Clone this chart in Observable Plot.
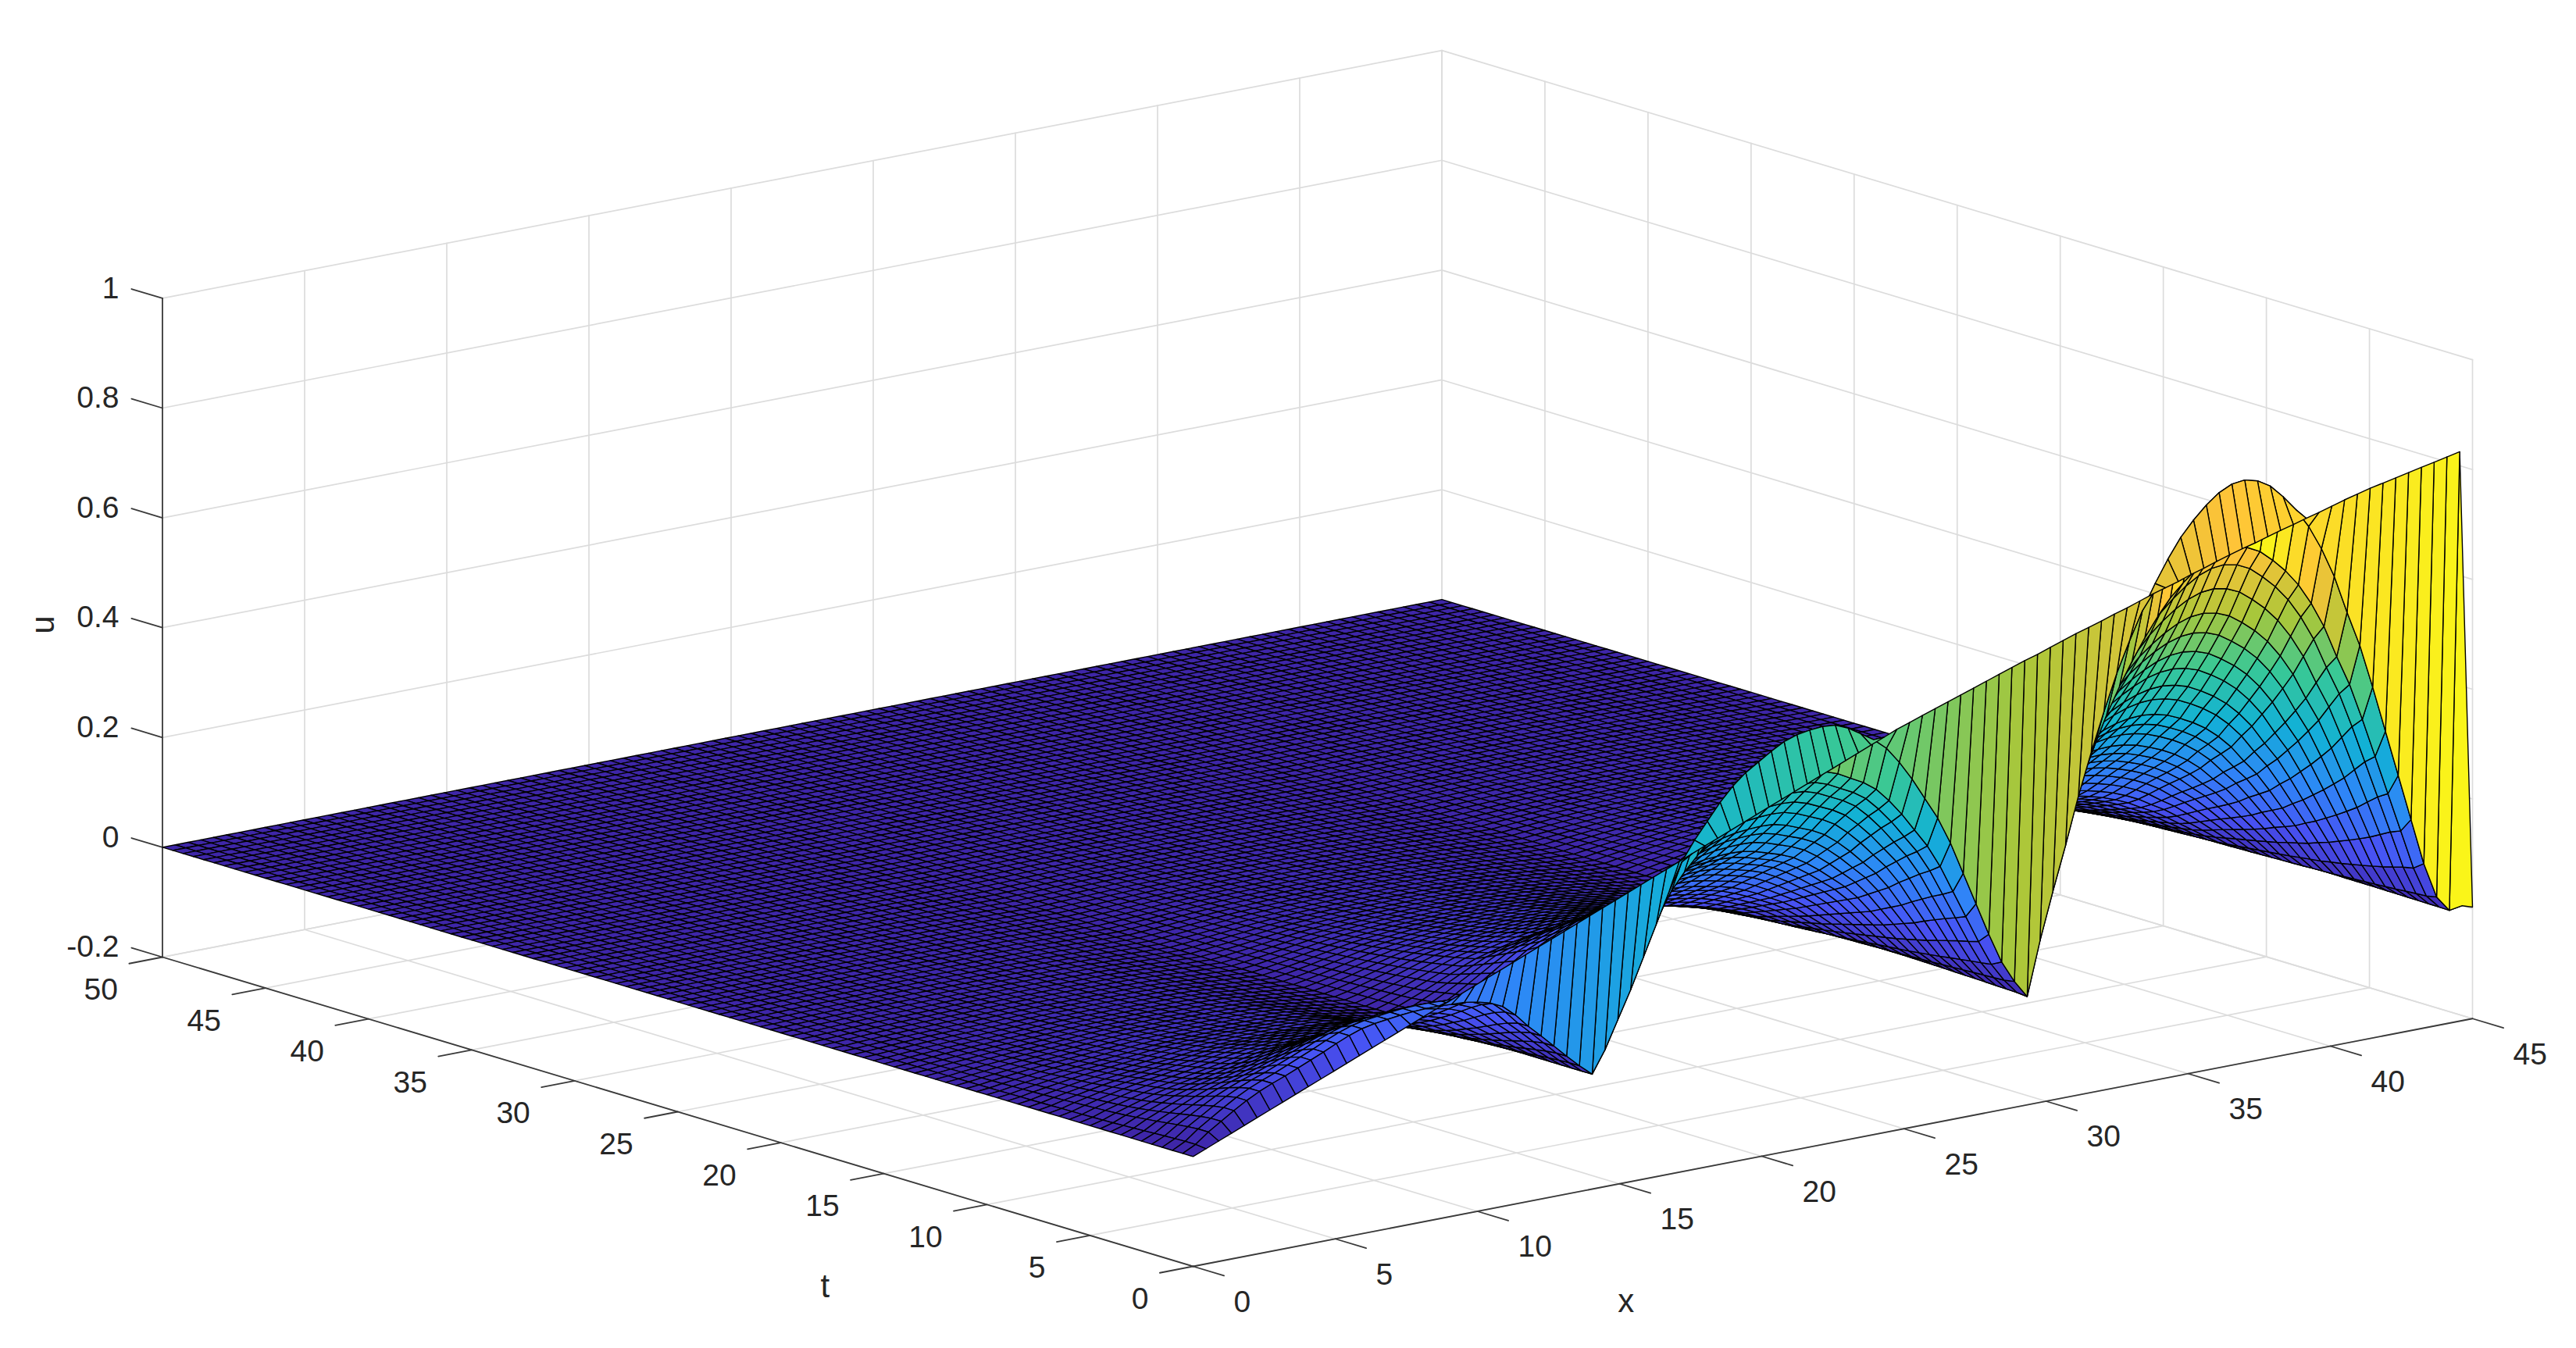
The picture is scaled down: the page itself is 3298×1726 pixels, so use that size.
<!DOCTYPE html>
<html><head><meta charset="utf-8">
<style>html,body{margin:0;padding:0;background:#fff}svg{display:block}</style>
<script src="https://cdn.jsdelivr.net/npm/d3@7"></script>
<script src="https://cdn.jsdelivr.net/npm/@observablehq/plot@0.6"></script>
</head><body><div id="chart"></div>
<script>
// Values. Rows after t=0.5 are approximated as rowProfile x a decay read
// per bump: the 10201 mesh nodes are not read one by one.
const xTicks=[0,5,10,15,20,25,30,35,40,45];
const tTicks=[0,5,10,15,20,25,30,35,40,45,50];
const uTicks=[-0.2,0,0.2,0.4,0.6,0.8,1];
const uLabels=["-0.2","0","0.2","0.4","0.6","0.8","1"];
const xStep=0.45, tStep=0.5;
// u at t=0, one value per x node
const rowStart=[0,.0096,.0193,.0289,.0385,.0482,.0578,.0674,.077,.0867,.0963,.1059,.1156,.1252,.1348,.1445,.1541,.1637,.1733,.183,.1926,.2022,.2119,.2215,.2311,.2408,.2504,.26,.2696,.2793,.2889,.2985,.3082,.3178,.3274,.3371,.3467,.3563,.3659,.3756,.3852,.3948,.4045,.4141,.4237,.4334,.443,.4526,.4622,.4719,.4815,.4911,.5008,.5104,.52,
.53,.538,.546,.554,.562,.57,.578,.586,.594,.602,.61,.617,.625,.633,.641,.648,.655,.663,.67,.678,.686,.693,.7,.708,.715,.723,.73,.737,.743,.75,.757,.763,.77,.776,.783,.79,.796,.802,.807,.812,.817,.822,.827,.832,.837,.003];
// u at t=0.5, one value per x node
const rowProfile=[0,.012,.03,.045,.06,.074,.086,.096,.105,.115,.125,.135,.146,.156,.164,.169,.172,.175,.177,.178,.178,.177,.176,.172,.166,.155,.135,.11,.088,.065,.042,.02,
0,.04,.09,.14,.195,.25,.305,.355,.39,.42,.45,.475,.495,.51,.525,.538,.546,.55,.552,.55,.54,.525,.51,.49,.46,.425,.385,.345,.295,.235,.175,.115,.06,.02,
-.012,.085,.17,.25,.335,.41,.48,.545,.6,.65,.695,.735,.77,.797,.82,.838,.849,.852,.846,.832,.808,.78,.745,.7,.645,.575,.51,.43,.345,.26,.175,.09,.025,-.004,0];
// height of each row from t=0.5 to t=10 relative to t=0.5, one list per bump
const decayBump1=[1,1,.95,.88,.8,.72,.65,.58,.52,.47,.43,.4,.37,.34,.31,.28,.26,.24,.22,.2];
const decayBump2=[1,.836,.79,.75,.705,.66,.61,.57,.53,.49,.46,.43,.4,.37,.34,.31,.285,.26,.235,.21];
const decayBump3=[1,.85,.806,.748,.689,.64,.593,.55,.507,.471,.431,.403,.376,.345,.32,.297,.275,.252,.228,.205];
// shared by all bumps from t=10.5 to t=50
const decayTail=[.186,.173,.161,.15,.139,.129,.12,.112,.104,.097,.09,.084,.078,.072,.067,.063,.058,.054,.05,.047,.043,.04,.037,.035,.032,.03,.028,.026,.024,.022,.021,.019,.018,.017,.015,.014,.013,.012,.011,.011,
.01,.009,.009,.008,.007,.007,.006,.006,.005,.005,.005,.004,.004,.004,.003,.003,.003,.003,.002,.002,.002,.002,.002,.002,.001,.001,.001,.001,.001,.001,.001,.001,.001,.001,0,0,0,0,0,0];
const bump2Start=32, bump3Start=66;
const parula=["rgb(62,38,168)","rgb(72,82,244)","rgb(46,135,247)","rgb(18,177,214)","rgb(55,200,151)","rgb(171,199,57)","rgb(254,195,56)","rgb(249,251,21)"];

// orthographic view of the box
const W=3298,H=1726,uMin=-0.2,uMax=1,xMax=45,tMax=50;
const sx=(x,t)=>1527+36.4*x-26.39*t;
const sy=(x,t,u)=>1621-7.05*x-7.92*t-703*(u-uMin);

const nx=rowStart.length, nt=decayBump1.length+decayTail.length+1;
const headOf=i=>i<bump2Start?decayBump1:i<bump3Start?decayBump2:decayBump3;
const decayAt=(j,i)=>{const h=headOf(i);return j-1<h.length?h[j-1]:decayTail[j-1-h.length];};
const uAt=(j,i)=>j===0?rowStart[i]:rowProfile[i]*decayAt(j,i);
const quads=[];
for(let j=nt-2;j>=0;j--)for(let i=nx-2;i>=0;i--){
  const k=j*nx+i, v=uAt(j,i);
  for(const [a,b] of [[i,j],[i+1,j],[i+1,j+1],[i,j+1]]){
    const x=a*xStep,t=b*tStep,u=uAt(b,a);
    quads.push({k,v,X:sx(x,t),Y:sy(x,t,u)});
  }
}
const P=(x,t,u)=>({X:sx(x,t),Y:sy(x,t,u)});
const gridRows=[];let gid=0;
const addSeg=(a,b)=>{gid++;gridRows.push({...a,g:gid},{...b,g:gid});};
for(const x of xTicks){addSeg(P(x,0,uMin),P(x,tMax,uMin));addSeg(P(x,tMax,uMin),P(x,tMax,uMax));}
for(const t of tTicks){addSeg(P(0,t,uMin),P(xMax,t,uMin));addSeg(P(xMax,t,uMin),P(xMax,t,uMax));}
for(const u of uTicks){addSeg(P(0,tMax,u),P(xMax,tMax,u));addSeg(P(xMax,tMax,u),P(xMax,0,u));}
const axisRows=[];let aid=0;
const addAxis=(a,b)=>{aid++;axisRows.push({...a,g:aid},{...b,g:aid});};
addAxis(P(0,tMax,uMin),P(0,tMax,uMax));
addAxis(P(0,0,uMin),P(0,tMax,uMin));
addAxis(P(0,0,uMin),P(xMax,0,uMin));
for(const u of uTicks)addAxis(P(0,tMax,u),P(0,tMax+1.5,u));
for(const t of tTicks)addAxis(P(0,t,uMin),P(-1.17,t,uMin));
for(const x of xTicks)addAxis(P(x,0,uMin),P(x,-1.5,uMin));

const font={fontFamily:"Liberation Sans, Arial, sans-serif",fill:"#262626",lineAnchor:"middle"};
const chart=Plot.plot({
  width:W,height:H,margin:0,
  style:{background:"#fff"},
  x:{domain:[0,W],range:[0,W],axis:null},
  y:{domain:[0,H],range:[0,H],axis:null},
  color:{type:"linear",domain:[0,.85],interpolate:d3.piecewise(d3.interpolateRgb,parula),clamp:true},
  marks:[
    Plot.line(gridRows,{x:"X",y:"Y",z:"g",stroke:"#dcdcdc",strokeWidth:1.7}),
    Plot.line(axisRows,{x:"X",y:"Y",z:"g",stroke:"#3a3a3a",strokeWidth:1.8}),
    Plot.line(quads,{x:"X",y:"Y",z:"k",fill:"v",stroke:"#000",strokeWidth:1.4,curve:"linear-closed",strokeLinejoin:"round"}),
    Plot.text(uTicks,{x:u=>sx(0,tMax+1.5),y:u=>sy(0,tMax+1.5,u),text:(u,i)=>uLabels[i],textAnchor:"end",dx:-16,dy:-1,fontSize:39,...font}),
    Plot.text(tTicks,{x:t=>sx(0,t),y:t=>sy(0,t,uMin),text:t=>String(t),textAnchor:"end",dx:-57,dy:42,fontSize:39,...font}),
    Plot.text(xTicks,{x:x=>sx(x,0),y:x=>sy(x,0,uMin),text:x=>String(x),textAnchor:"start",dx:52,dy:46,fontSize:39,...font}),
    Plot.text([{s:"x",x:6.77,t:-11.66,u:uMin},{s:"t",x:-9.34,t:4.97,u:uMin}],{x:d=>sx(d.x,d.t),y:d=>sy(d.x,d.t,d.u),text:"s",textAnchor:"middle",fontSize:42,...font}),
    Plot.text([{s:"u",x:0,t:55.78,u:.34}],{x:d=>sx(d.x,d.t),y:d=>sy(d.x,d.t,d.u),text:"s",rotate:-90,textAnchor:"middle",fontSize:42,...font})
  ]
});
document.getElementById("chart").append(chart);
</script></body></html>
